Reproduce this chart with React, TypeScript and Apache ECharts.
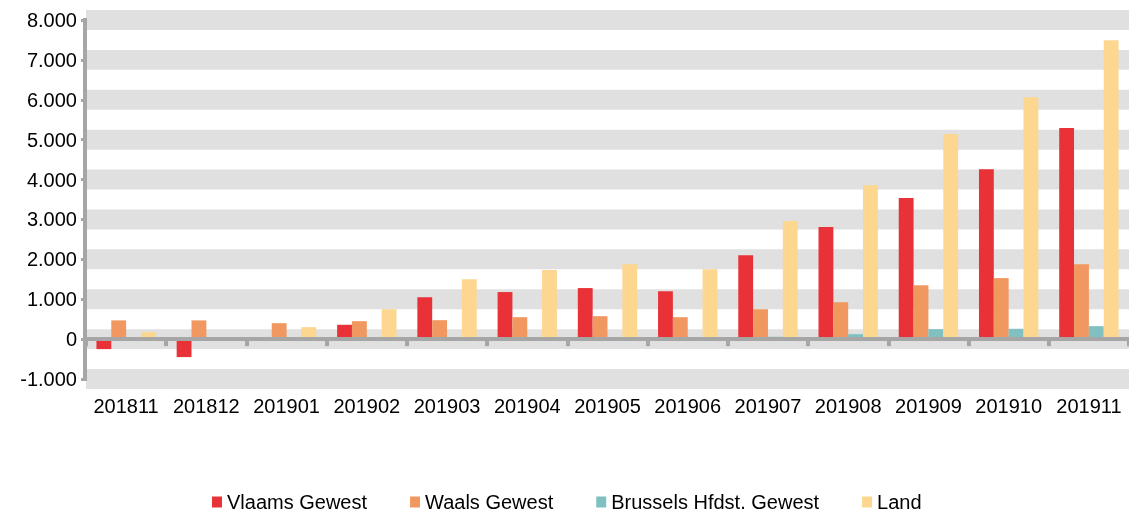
import React, { useEffect, useRef } from "react";
import * as echarts from "echarts";

const categories = ["201811","201812","201901","201902","201903","201904","201905","201906","201907","201908","201909","201910","201911"];
const vlaams = [-250, -450, -30, 360, 1050, 1180, 1280, 1200, 2100, 2810, 3535, 4260, 5290];
const waals = [470, 470, 400, 450, 475, 550, 575, 550, 750, 925, 1350, 1530, 1880];
const brussels = [0, 0, 0, -20, 0, 0, 0, 0, 60, 125, 250, 260, 325];
const land = [175, 20, 300, 750, 1500, 1730, 1880, 1750, 2960, 3860, 5140, 6065, 7490];
const yTicks = [-1000, 0, 1000, 2000, 3000, 4000, 5000, 6000, 7000, 8000];
const seriesNames = ["Vlaams Gewest", "Waals Gewest", "Brussels Hfdst. Gewest", "Land"];
const colors = ["#e83238", "#f0985f", "#80c0c0", "#fdd68f"];

const FONT = "Liberation Sans, Arial, sans-serif";
const fmt = (v: number) => {
  const s = Math.abs(v).toString().replace(/\B(?=(\d{3})+(?!\d))/g, ".");
  return (v < 0 ? "-" : "") + s;
};

export default function App() {
  const ref = useRef<HTMLDivElement>(null);
  useEffect(() => {
    if (!ref.current) return;
    const chart = echarts.init(ref.current, null, { renderer: "svg" });
    const values = [vlaams, waals, brussels, land];
    const bands = yTicks.map((v) => [{ yAxis: v - 250 }, { yAxis: v + 250 }]);
    chart.setOption({
      animation: false,
      color: colors,
      grid: { left: 86, top: 10, width: 1046, height: 379 },
      legend: {
        data: seriesNames,
        left: 207,
        top: 487,
        itemWidth: 10,
        itemHeight: 11,
        itemGap: 43,
        icon: "rect",
        textStyle: { fontFamily: FONT, fontSize: 20, color: "#000" },
      },
      xAxis: [
        {
          type: "category",
          data: categories,
          position: "top",
          z: 10,
          axisLine: { onZero: true, lineStyle: { color: "#a6a6a6", width: 4 } },
          axisTick: { show: true, inside: true, length: 7, interval: 0, lineStyle: { color: "#a6a6a6", width: 4 } },
          axisLabel: { show: false },
          splitLine: { show: false },
        },
        {
          type: "category",
          data: categories,
          position: "bottom",
          axisLine: { show: false, onZero: false },
          axisTick: { show: false },
          axisLabel: { show: true, interval: 0, margin: 7, fontFamily: FONT, fontSize: 20, color: "#000" },
          splitLine: { show: false },
        },
      ],
      yAxis: {
        type: "value",
        min: -1250,
        max: 8250,
        axisLine: { show: false },
        axisTick: { show: true, customValues: yTicks, length: 5, lineStyle: { color: "#a6a6a6", width: 3 } },
        axisLabel: { show: true, customValues: yTicks, margin: 9, formatter: (v: number) => fmt(v), fontFamily: FONT, fontSize: 20, color: "#000" },
        splitLine: { show: false },
        splitArea: { show: false },
      },
      series: [
        {
          name: "bands",
          type: "line",
          data: [],
          z: 0,
          silent: true,
          markArea: { silent: true, itemStyle: { color: "#e0e0e0" }, data: bands },
        },
        ...seriesNames.map((name, i) => ({
          name,
          type: "bar",
          xAxisIndex: 0,
          data: values[i],
          z: 2,
          barGap: "0%",
          barCategoryGap: "26%",
          itemStyle: { color: colors[i] },
        })),
      ],
    });
    const yTop = chart.convertToPixel({ yAxisIndex: 0 }, 8000) as number;
    const yBot = chart.convertToPixel({ yAxisIndex: 0 }, -1000) as number;
    chart.setOption({
      graphic: [
        {
          type: "line",
          z: 20,
          shape: { x1: 85, y1: yTop - 2, x2: 85, y2: yBot + 2 },
          style: { stroke: "#a6a6a6", lineWidth: 4 },
        },
      ],
    });
    return () => chart.dispose();
  }, []);
  return <div ref={ref} style={{ position: "fixed", left: 0, top: 0, width: 1129, height: 515 }} />;
}
